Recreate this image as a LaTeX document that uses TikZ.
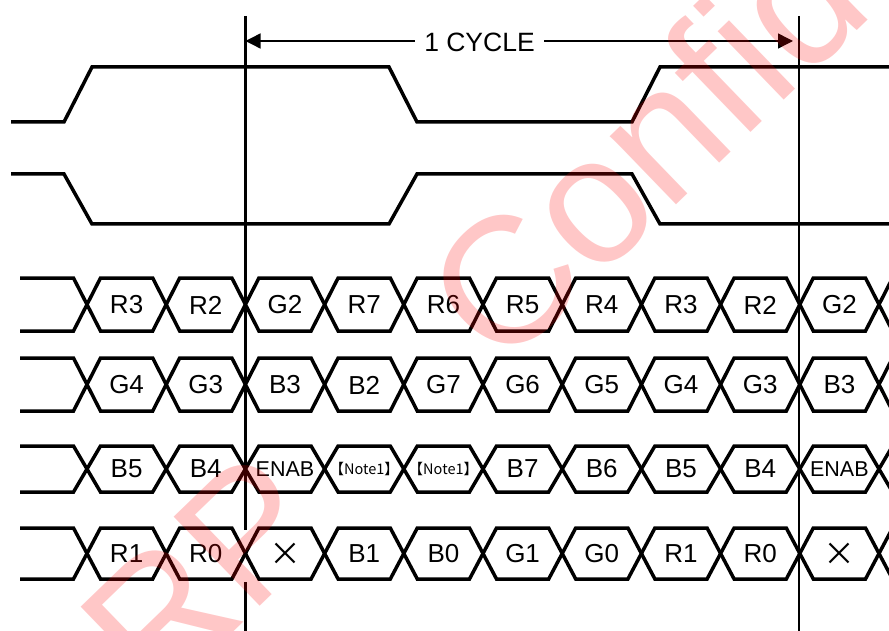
\documentclass[tikz,border=0pt]{standalone}
\usepackage{fontspec}
\setmainfont{Liberation Sans}
\newfontfamily\cjk{Noto Sans CJK JP}
\usetikzlibrary{arrows.meta}
\newcommand\sigrow[2]{%
  \draw[sig] (20,#1) \foreach \j in {0,...,5}{ -- ({87+158.4*\j-13.5},#1) -- ({87+158.4*\j+13.5},#2) -- ({166.2+158.4*\j-13.5},#2) -- ({166.2+158.4*\j+13.5},#1) };
  \draw[sig] (20,#2) \foreach \j in {0,...,5}{ -- ({87+158.4*\j-13.5},#2) -- ({87+158.4*\j+13.5},#1) -- ({166.2+158.4*\j-13.5},#1) -- ({166.2+158.4*\j+13.5},#2) };
}
\begin{document}
\begin{tikzpicture}[x=1pt,y=-1pt,
  sig/.style={line width=3.5pt, line join=miter},
  vline/.style={line width=2.6pt},
  lbl/.style={font=\fontsize{26}{26}\selectfont, inner sep=0pt},
  cyc/.style={font=\fontsize{26.5}{26.5}\selectfont, inner sep=0pt, fill=white},
  arr/.style={line width=1.4pt, -{Triangle[length=15pt,width=15pt]}},
  wm/.style={rotate=44, anchor=base west, inner sep=0pt, text=red, text opacity=0.22, font=\fontsize{180}{180}\selectfont}]
\useasboundingbox (0,0) rectangle (889,631);
\clip (0,0) rectangle (889,631);
% clocks
\draw[sig] (11,122) -- (64,122) -- (92,67) -- (389,67) -- (417,122) -- (632,122) -- (660,67) -- (895,67);
\draw[sig] (11,174) -- (64,174) -- (92,224) -- (389,224) -- (417,174) -- (632,174) -- (660,224) -- (895,224);
% data rows
\sigrow{278}{331}
\sigrow{358}{411}
\sigrow{446}{492}
\sigrow{528}{579}
\foreach \t [count=\i from 0] in {R3,R2,G2,R7,R6,R5,R4,R3,R2,G2}
  \node[lbl] (ra\i) at ({126.6+79.2*\i},305) {\t};
\foreach \t [count=\i from 0] in {G4,G3,B3,B2,G7,G6,G5,G4,G3,B3}
  \node[lbl] (rb\i) at ({126.6+79.2*\i},385) {\t};
\foreach \t [count=\i from 0] in {B5,B4,{\fontsize{21.5}{21.5}\selectfont ENAB},{\cjk\fontsize{14.5}{14.5}\selectfont 【Note1】},{\cjk\fontsize{14.5}{14.5}\selectfont 【Note1】},B7,B6,B5,B4,{\fontsize{21.5}{21.5}\selectfont ENAB}}
  \node[lbl] (rc\i) at ({126.6+79.2*\i},469) {\t};
\foreach \t [count=\i from 0] in {R1,R0,{\cjk\fontsize{32}{32}\selectfont ×},B1,B0,G1,G0,R1,R0,{\cjk\fontsize{32}{32}\selectfont ×}}
  \node[lbl] (rd\i) at ({126.6+79.2*\i},554) {\t};
% cycle markers
\draw[vline] (245.5,16) -- (245.5,530);
\draw[vline] (245.5,582) -- (245.5,631);
\draw[vline] (799,16) -- (799,631);
\coordinate (cl) at (245.5,41);
\coordinate (cr) at (793,41);
\node[cyc, minimum width=129pt, minimum height=24pt] (cy) at (479.5,42) {1 CYCLE};
\draw[arr] (cy.west |- cl) -- (cl);
\draw[arr] (cy.east |- cr) -- (cr);
% watermark
\node[wm] (mark) at (70,790) {ARP\hspace{1.28em}Confidential};
\end{tikzpicture}
\end{document}
